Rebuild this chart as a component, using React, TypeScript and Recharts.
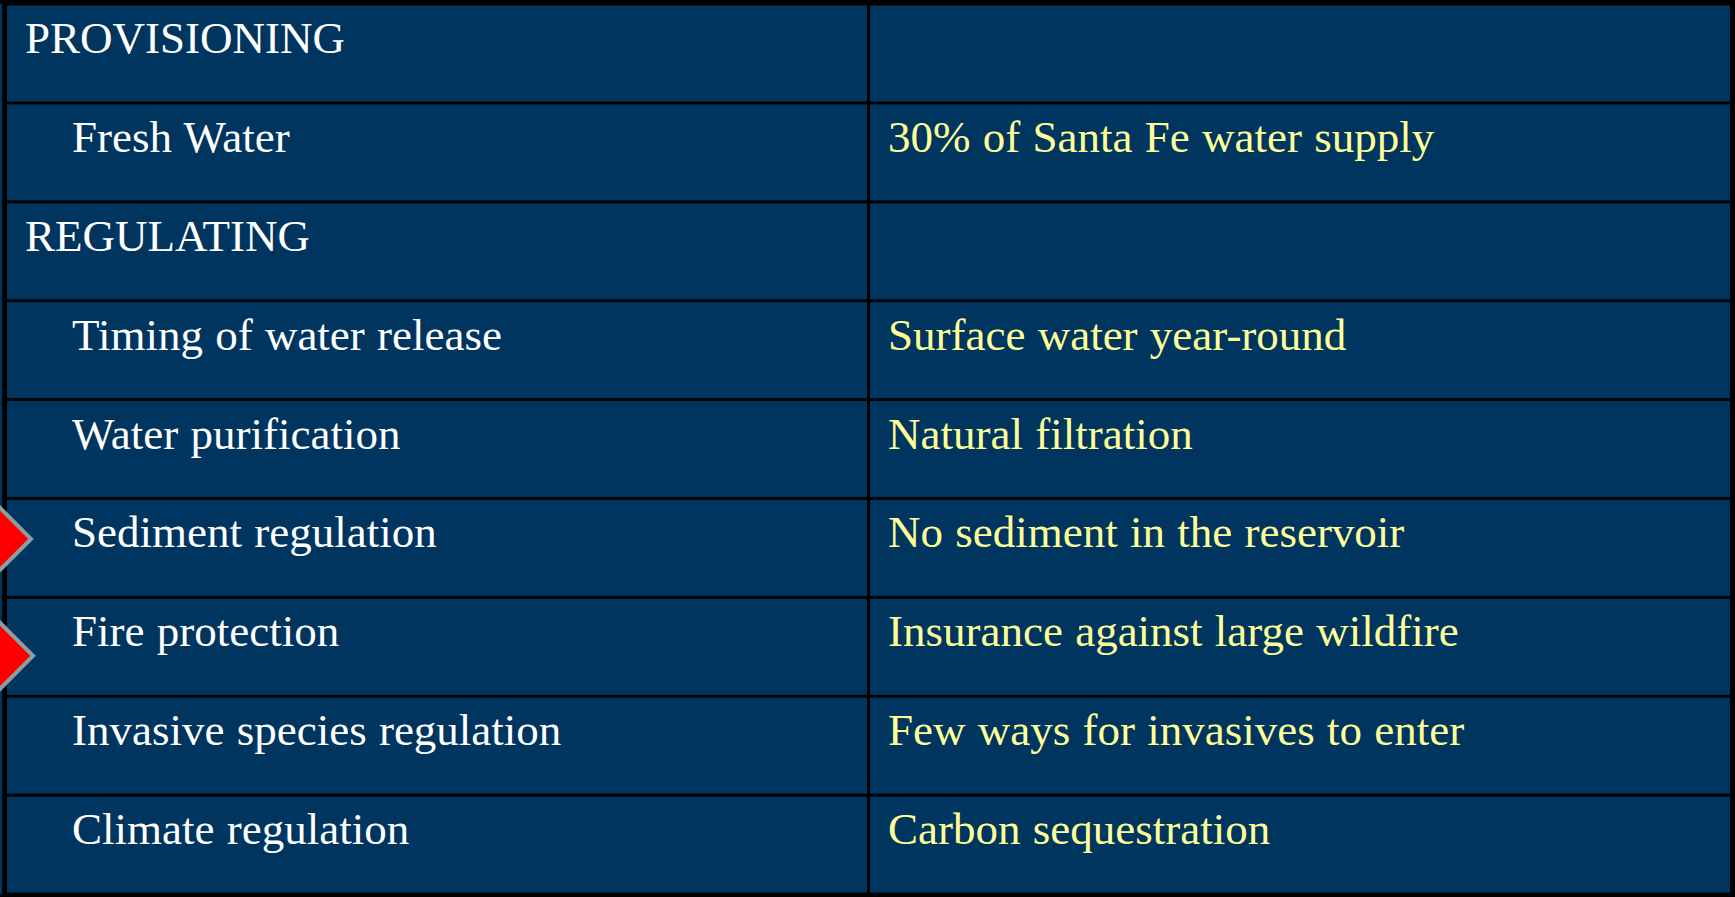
import { Bar, BarChart, XAxis, YAxis } from "recharts";

// table content, row by row
const services = [
  "PROVISIONING",
  "Fresh Water",
  "REGULATING",
  "Timing of water release",
  "Water purification",
  "Sediment regulation",
  "Fire protection",
  "Invasive species regulation",
  "Climate regulation",
];

const benefits = [
  "",
  "30% of Santa Fe water supply",
  "",
  "Surface water year-round",
  "Natural filtration",
  "No sediment in the reservoir",
  "Insurance against large wildfire",
  "Few ways for invasives to enter",
  "Carbon sequestration",
];

const categoryRows = ["PROVISIONING", "REGULATING"];
const flaggedRows = ["Sediment regulation", "Fire protection"];

const WIDTH = 1735;
const HEIGHT = 897;
const NAVY = "#00355F";
const YELLOW = "#FFFF99";
const FONT = '"Liberation Serif", "Times New Roman", serif';
const COL_SPLIT = 0.5;
const BORDER = 1.5;

// little red markers poke in from the left edge, not quite centred on their rows
const arrowNudge: Record<string, { dy: number; r: number }> = {
  "Sediment regulation": { dy: -9, r: 31 },
  "Fire protection": { dy: 9, r: 33 },
};

const rows = services.map((service, i) => ({
  service,
  benefit: benefits[i],
  span: 1,
  isCategory: categoryRows.includes(service),
  flagged: flaggedRows.includes(service),
}));

const RowShape = (props: any) => {
  const { x, y, width, height, payload } = props;
  const splitX = x + width * COL_SPLIT;
  const top = y + BORDER;
  const h = height - BORDER * 2;
  const baseline = y + 49;
  const nudge = arrowNudge[payload.service];
  const cy = y + height / 2 + (nudge ? nudge.dy : 0);
  const r = nudge ? nudge.r : 0;

  return (
    <g>
      <rect x={0} y={y} width={2} height={height} fill={NAVY} />
      <rect x={x} y={top} width={splitX - BORDER - x} height={h} fill={NAVY} />
      <rect
        x={splitX + BORDER}
        y={top}
        width={x + width - splitX - BORDER}
        height={h}
        fill={NAVY}
      />
      <text
        x={payload.isCategory ? x + 18 : x + 65}
        y={baseline}
        fill="#FFFFFF"
        fontSize={45}
        fontFamily={FONT}
        style={{ wordSpacing: 1 }}
      >
        {payload.service}
      </text>
      {payload.benefit && (
        <text
          x={splitX + 19.5}
          y={baseline}
          fill={YELLOW}
          fontSize={45}
          fontFamily={FONT}
          style={{ wordSpacing: 1 }}
        >
          {payload.benefit}
        </text>
      )}
      {payload.flagged && (
        <polygon
          points={`${-r},${cy} 0,${cy - r} ${r},${cy} 0,${cy + r}`}
          fill="#FF0000"
          stroke="#8A9FA0"
          strokeWidth={4}
        />
      )}
    </g>
  );
};

export default function App() {
  return (
    <div
      style={{
        position: "absolute",
        left: 0,
        top: 0,
        width: WIDTH,
        height: HEIGHT,
        background: "#000000",
      }}
    >
      <BarChart
        width={WIDTH}
        height={HEIGHT}
        data={rows}
        layout="vertical"
        margin={{ top: 4, right: 5, bottom: 3, left: 7 }}
        barCategoryGap={0}
      >
        <XAxis type="number" domain={[0, 1]} hide />
        <YAxis type="category" dataKey="service" hide />
        <Bar dataKey="span" shape={RowShape} isAnimationActive={false} />
      </BarChart>
    </div>
  );
}
